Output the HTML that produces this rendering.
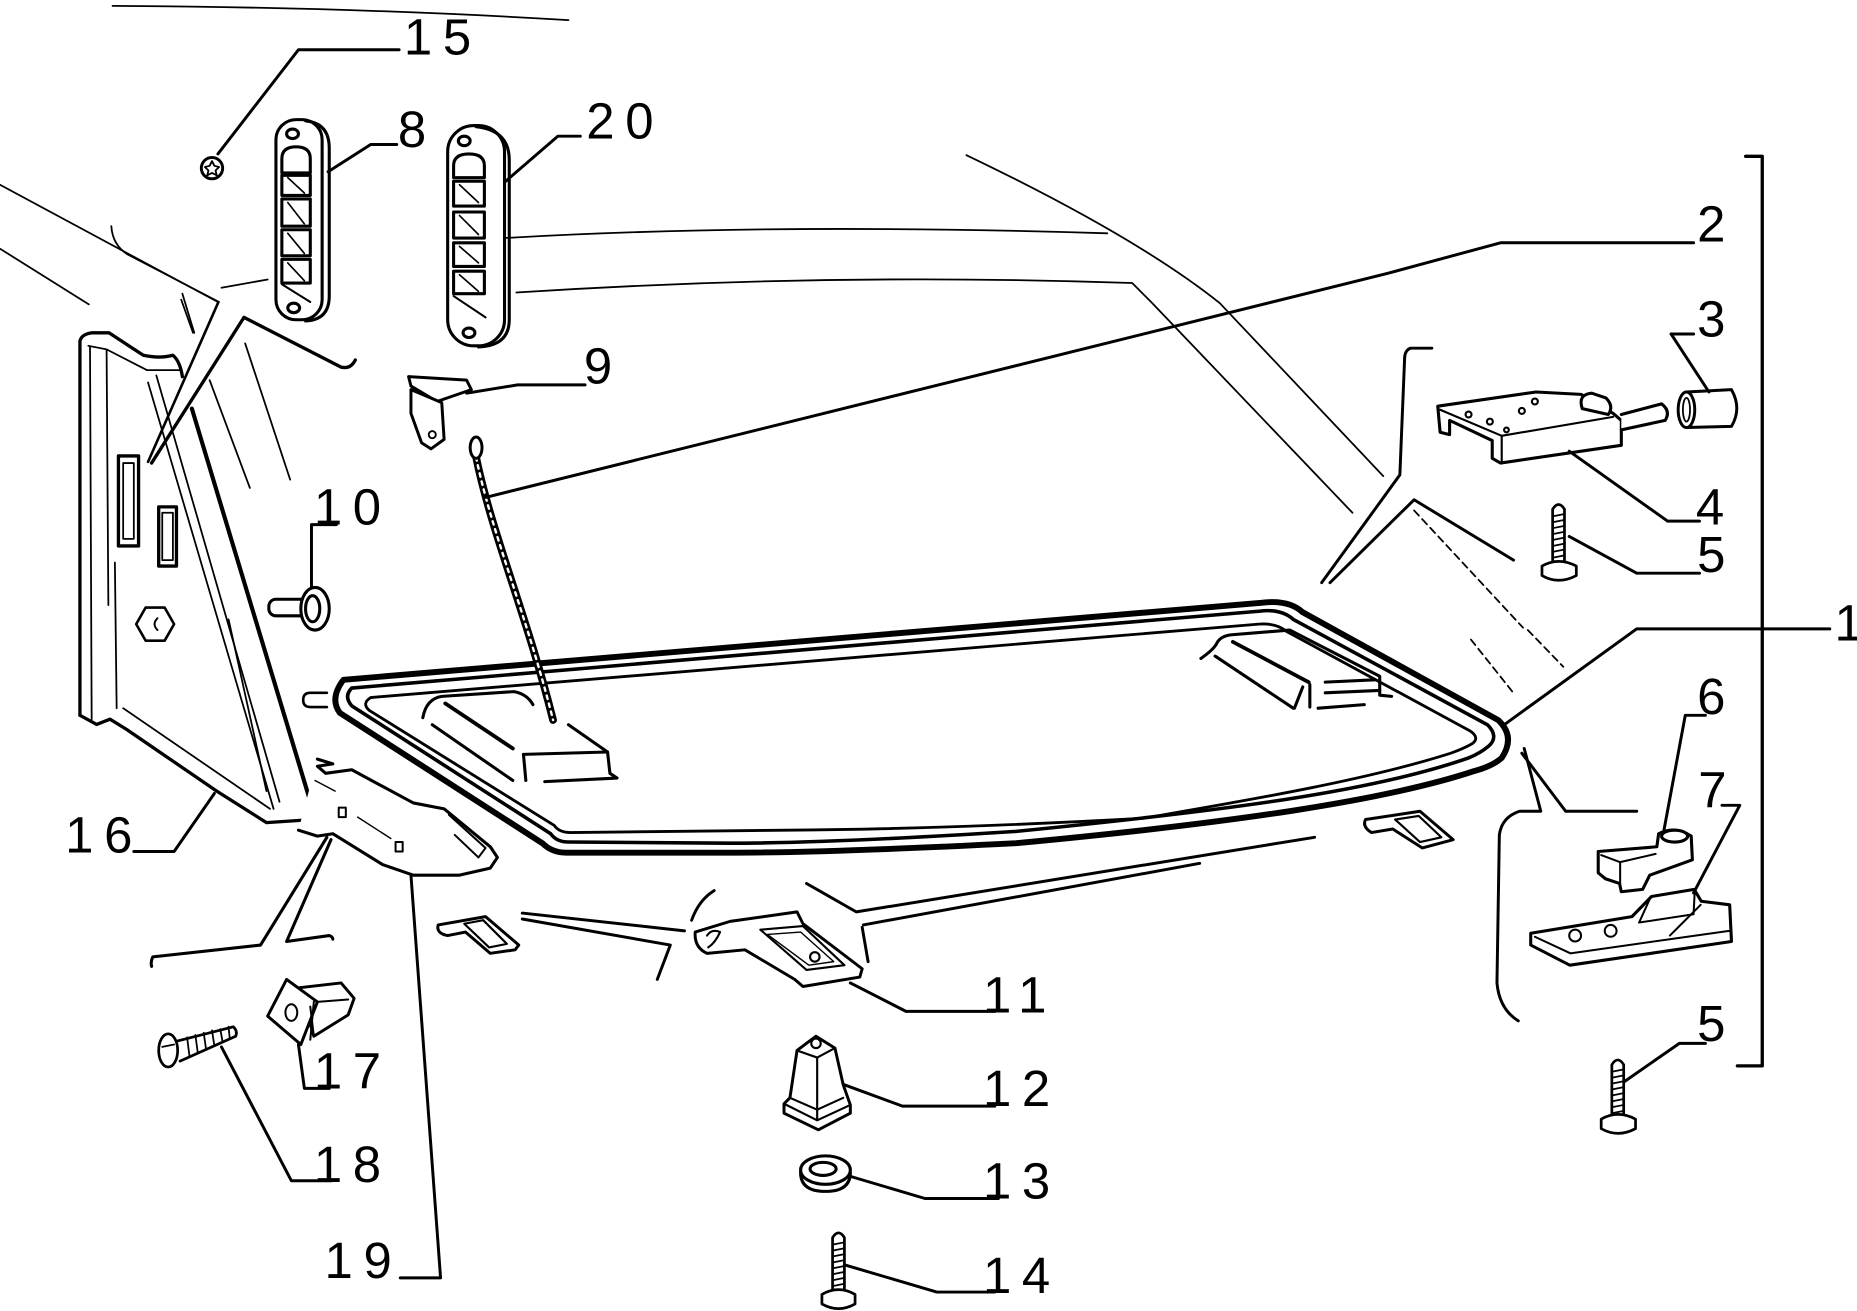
<!DOCTYPE html>
<html><head><meta charset="utf-8">
<style>
html,body{margin:0;padding:0;background:#fff;}
svg{display:block;}
text{font-family:"Liberation Sans",Arial,sans-serif;font-size:43px;letter-spacing:9px;fill:#000;}
</style></head><body>
<svg width="1857" height="1311" viewBox="0 0 1568 1107" preserveAspectRatio="none" xmlns="http://www.w3.org/2000/svg">
<rect width="1568" height="1107" fill="#fff"/>
<g fill="none" stroke="#000" stroke-linecap="round" stroke-linejoin="round">

<!-- background thin lines -->
<g stroke-width="1.5">
<path d="M95,5 Q300,6 480,17"/>
<path d="M0,156 L184,255"/>
<path d="M0,210 L75,257"/>
<path d="M94,191 Q95,207 108,215 L185,255"/>
<path d="M187,243 L226,236"/>
<path d="M154,248 L164,281"/>
<path d="M207,290 L245,405"/>
<path d="M125,323 L231,683"/>
<path d="M132,317 L236,677"/>
<path d="M177,321 L211,412"/>
<path d="M193,523 L225,668"/>
<path d="M153,253 L163,281"/>
<path d="M426,201 Q650,188 935,197"/>
<path d="M436,247 Q700,230 956,239 L972,255 L1142,433"/>
<path d="M816,131 Q960,200 1030,256 L1168,402"/>
<path d="M1194,431 L1286,530" stroke-dasharray="6 4"/>
<path d="M1242,540 L1277,584" stroke-dasharray="6 4"/>
<path d="M1290,532 L1320,563" stroke-dasharray="6 4"/>
</g>

<!-- panel 16 -->
<g stroke-width="2.8">
<path d="M67.5,604 L67.5,288 Q69,282 78,281 L92,281 L121,300 Q135,303 146,300 Q152,305 154,318"/>
<path d="M67.5,604 L81.6,611.7 L92.9,607.3 L107,616 L183,668 L225,694.6 L264.5,692"/>
<path d="M162,345 L266,690" stroke-width="3.5"/>
<path d="M128,391 L206,268 L288,310 Q296,312 300,304"/>
<path d="M125,390 L184,256" stroke-width="2.2"/>
<rect x="100" y="385" width="17" height="76"/>
<rect x="104" y="391" width="9" height="64" stroke-width="1.5"/>
<rect x="134" y="428" width="15" height="50"/>
<rect x="137" y="433" width="9" height="40" stroke-width="1.5"/>
<polygon points="147,527 139,541 123,541 115,527 123,513 139,513" stroke-width="2.2"/>
<path d="M133,522 Q128,527 133,532" stroke-width="1.6"/>
<path d="M276,585 L262,585 Q256,585 256,591 Q256,597 262,597 L276,597" stroke-width="2.2"/>
</g>
<g stroke-width="1.5">
<path d="M74.6,292 L90,295 L124,312.5 L152,312.5"/>
<path d="M76,293 L77.4,608"/>
<path d="M90,295 L91.5,511"/>
<path d="M97,475 L98.5,598"/>
<path d="M104,598 L228,683"/>
</g>

<!-- part 10 -->
<g stroke-width="2.6">
<rect x="227" y="506" width="38" height="14" rx="6" fill="#fff"/>
<ellipse cx="266" cy="514" rx="12" ry="18" fill="#fff"/>
<ellipse cx="264" cy="514" rx="6" ry="11"/>
</g>

<!-- part 15 -->
<circle cx="179" cy="142" r="9" stroke-width="2.5"/>
<polygon points="179,136 181,140 185,141 182,144 183,148 179,146 175,148 176,144 173,141 177,140" stroke-width="1.5"/>

<!-- part 8 -->
<g stroke-width="2.6">
<rect x="233" y="101" width="39" height="169" rx="17" fill="#fff"/>
<path d="M258,102 Q278,104 278,125 L278,250 Q278,270 258,271"/>
<path d="M238,146 L238,134 Q238,124 250,124 Q262,124 262,134 L262,146 Z"/>
<rect x="238" y="148" width="24" height="17"/>
<rect x="238" y="168" width="24" height="23"/>
<rect x="238" y="194" width="24" height="22"/>
<rect x="238" y="219" width="24" height="20"/>
<path d="M238,240 L262,255" stroke-width="1.7"/>
<ellipse cx="247" cy="113" rx="5" ry="4"/>
<ellipse cx="248" cy="260" rx="5" ry="4"/>
</g>
<g stroke-width="1.4">
<path d="M243,150 L257,163"/><path d="M243,171 L257,189"/><path d="M243,197 L257,214"/><path d="M243,222 L257,237"/>
</g>

<!-- part 20 -->
<g stroke-width="2.6">
<rect x="378" y="106" width="48" height="186" rx="22" fill="#fff"/>
<path d="M402,107 Q430,110 430,135 L430,270 Q430,292 404,293"/>
<path d="M383,150 L383,140 Q383,130 396,130 Q409,130 409,140 L409,150 Z"/>
<rect x="383" y="153" width="26" height="21"/>
<rect x="383" y="179" width="26" height="22"/>
<rect x="383" y="205" width="26" height="20"/>
<rect x="383" y="229" width="26" height="19"/>
<path d="M383,250 L410,268" stroke-width="1.7"/>
<ellipse cx="392" cy="119" rx="5" ry="4"/>
<ellipse cx="396" cy="281" rx="5" ry="4"/>
</g>
<g stroke-width="1.4">
<path d="M388,156 L404,171"/><path d="M388,182 L404,198"/><path d="M388,208 L404,222"/><path d="M388,232 L404,246"/>
</g>

<!-- part 9 -->
<g stroke-width="2.5" fill="#fff">
<path d="M345,318 L394,321 L398,329 L369,339 L347,326 Z"/>
<path d="M347,329 L373,340 L375,371 L364,379 L356,374 L347,349 Z"/>
</g>
<circle cx="365" cy="367" r="3" stroke-width="1.6"/>

<!-- tray -->
<path d="M290,574 L1065,509 Q1088,506 1100,517 L1265,608 Q1280,622 1268,640 Q1260,647 1245,651 C1170,676 1040,695 858,712 Q700,720 616,720 L478,720 Q466,720 458,712 L287,602 Q278,590 290,574 Z" stroke-width="5"/>
<path d="M297,581 L1064,516 Q1082,514 1092,523 L1256,612 Q1266,622 1257,630 Q1250,636 1240,640 C1160,668 1040,684 858,702 Q700,712 616,712 L480,711 Q470,711 465,704 L297,596 Q290,588 297,581 Z" stroke-width="3"/>
<path d="M313,589 L1063,527 Q1078,526 1086,533 L1241,617 Q1250,623 1243,628 Q1236,632 1225,636 C1150,660 1040,678 965,691 Q800,700 664,701 L482,703 Q472,703 468,697 L312,600 Q305,594 313,589 Z" stroke-width="2.4"/>

<!-- left bump -->
<g stroke-width="2.6">
<path d="M357,606 Q360,590 373,588 L434,584 Q445,586 450,595"/>
<path d="M480,612 L513,635 L515,653 L521,657 L460,660"/>
<path d="M442,637 L513,635"/>
<path d="M442,637 L444,659"/>
<path d="M376,594 L433,632" stroke-width="3.2"/>
<path d="M365,612 L433,659"/>
</g>
<!-- right bump -->
<g stroke-width="2.6">
<path d="M1014,556 Q1024,549 1027,544 Q1030,537 1040,536 L1089,532 L1165,571 L1165,587 L1175,588"/>
<path d="M1041,542 L1105,576" stroke-width="3.2"/>
<path d="M1026,554 L1092,598"/>
<path d="M1100,580 L1093,598"/>
<path d="M1106,578 L1106,597"/>
<path d="M1119,576 L1161,574"/>
<path d="M1113,598 L1152,595"/>
<path d="M1119,585 L1165,583"/>
</g>

<!-- cable 2 -->
<path d="M402,386 C415,450 445,520 467,608" stroke-width="6.5"/>
<path d="M402,386 C415,450 445,520 467,608" stroke="#fff" stroke-width="2" stroke-dasharray="3 4"/>
<ellipse cx="402" cy="378" rx="5" ry="9" stroke-width="2.5" fill="#fff"/>

<!-- part 3 -->
<g stroke-width="2.5">
<path d="M1424,331 L1462,329 Q1471,345 1462,360 L1424,361"/>
<ellipse cx="1424" cy="346" rx="7" ry="15" fill="#fff"/>
<ellipse cx="1424" cy="346" rx="3" ry="10" stroke-width="1.5"/>
</g>

<!-- part 4 -->
<g stroke-width="2.6" fill="#fff">
<path d="M1214,343 L1297,331 L1335,333 L1362,349 L1369,355 L1369,376 L1267,391 L1260,387 L1260,372 L1224,355 L1224,367 L1216,365 Z"/>
<path d="M1369,350 L1403,341 Q1411,347 1406,355 L1369,363"/>
<path d="M1336,345 Q1332,333 1344,332 L1356,336 Q1363,343 1358,350 Z"/>
</g>
<g stroke-width="1.8">
<path d="M1216,346 L1268,368 L1362,352"/>
<path d="M1268,368 L1268,390"/>
<circle cx="1240" cy="350" r="2.5"/><circle cx="1258" cy="356" r="2.5"/><circle cx="1285" cy="347" r="2.5"/><circle cx="1296" cy="339" r="2.5"/><circle cx="1272" cy="363" r="2"/>
</g>

<!-- screws 5, 5b, 14 -->
<g stroke-width="2.3">
<path d="M1311,476 L1311,430 Q1316,422 1321,430 L1321,476"/>
<path d="M1302,478 Q1316,470 1331,478 L1331,486 Q1316,494 1302,486 Z" fill="#fff"/>
<path d="M1361,943 L1361,899 Q1366,891 1371,899 L1371,943"/>
<path d="M1352,945 Q1366,937 1381,945 L1381,953 Q1366,961 1352,953 Z" fill="#fff"/>
<path d="M703,1091 L703,1045 Q708,1037 713,1045 L713,1091"/>
<path d="M694,1093 Q708,1085 722,1093 L722,1101 Q708,1109 694,1101 Z" fill="#fff"/>
</g>
<g stroke-width="1.5">
<path d="M1311,436 L1321,434 M1311,441 L1321,439 M1311,446 L1321,444 M1311,451 L1321,449 M1311,456 L1321,454 M1311,461 L1321,459 M1311,466 L1321,464 M1311,471 L1321,469"/>
<path d="M1361,905 L1371,903 M1361,910 L1371,908 M1361,915 L1371,913 M1361,920 L1371,918 M1361,925 L1371,923 M1361,930 L1371,928 M1361,935 L1371,933 M1361,940 L1371,938"/>
<path d="M703,1051 L713,1049 M703,1056 L713,1054 M703,1061 L713,1059 M703,1066 L713,1064 M703,1071 L713,1069 M703,1076 L713,1074 M703,1081 L713,1079 M703,1086 L713,1084"/>
</g>

<!-- part 6 -->
<g stroke-width="2.6" fill="#fff">
<path d="M1349.5,719 L1399,715 L1400.5,704 Q1414,697 1428,706 L1429,726 L1393,739 L1387,751 L1369,753 L1367.5,746 L1355.5,742 L1349.5,737 Z"/>
<ellipse cx="1414" cy="706" rx="11" ry="5"/>
</g>
<path d="M1352,722 L1368,728 L1398,721 M1368,728 L1368,746" stroke-width="1.7"/>

<!-- part 7 -->
<g stroke-width="2.6" fill="#fff">
<path d="M1292.5,788 L1378,774 L1394.5,757 L1430.5,751 L1436.5,761 L1460.5,764 L1462,795 L1325.5,815 L1292.5,798 Z"/>
</g>
<g stroke-width="1.7">
<path d="M1296,791 L1326,805 L1460,786"/>
<path d="M1394,757 L1384,779 L1430,772 L1431,752"/>
<path d="M1436,764 L1420,780 L1410,790"/>
<circle cx="1330" cy="790" r="5"/><circle cx="1360" cy="786" r="5"/>
</g>

<!-- clips 11 -->
<g stroke-width="2.5" fill="#fff">
<path d="M1153,692 L1199,685 L1227,709 L1201,716 L1176,700 L1158,703 Q1150,698 1153,692 Z"/>
<path d="M370,781 L410,774 L438,798 L435,802 L414,805 L393,787 L378,790 Q368,788 370,781 Z"/>
<path d="M587,787 L616.5,778 L673,770 L678,780 L728,818 L726,825 L678,833 L671,827 L629,802 L597,805 Q586,800 587,787 Z"/>
</g>
<g stroke-width="1.8">
<path d="M1178,692 L1198,689 L1217,707 L1199,711 Z"/>
<path d="M392,780 L408,777 L428,797 L413,800 Z"/>
<path d="M642,785 L678,782 L713,815 L681,819 Z"/>
<path d="M648,789 L676,787 L704,812 L683,815 Z" stroke-width="1.2"/>
<circle cx="688" cy="808" r="4"/>
<path d="M597,790 Q601,784 608,787 Q604,796 598,800"/>
</g>

<!-- lines around big clip -->
<g stroke-width="2.5">
<path d="M441,771 L578,786"/>
<path d="M441,776 L566,798 L555,827"/>
<path d="M584,777 Q590,760 603,752"/>
<path d="M681,746 L723,770 L1110,707"/>
<path d="M729,781 L1013,729"/>
<path d="M728,783 L733,812"/>
</g>

<!-- part 12 -->
<g stroke-width="2.5" fill="#fff">
<path d="M673,887 L689,875 L705,885 L712,916 L718,933 L718,940 L691,954 L662,940 L662,932 L667,927 Z"/>
</g>
<g stroke-width="1.8">
<path d="M673,887 L690,893 L705,885"/>
<path d="M690,893 L690,945"/>
<path d="M667,927 L690,937 L712,927"/>
<path d="M662,932 L690,946 L718,933"/>
<circle cx="689" cy="881" r="4"/>
</g>

<!-- part 13 -->
<g stroke-width="2.6">
<path d="M676,990 Q676,1006 697,1006 Q718,1006 718,990"/>
<ellipse cx="697" cy="988" rx="21" ry="12" fill="#fff"/>
<ellipse cx="695" cy="987" rx="11" ry="5.5"/>
</g>

<!-- part 17 -->
<g stroke-width="2.5" fill="#fff">
<path d="M253,834 L288,830 L299,843 L294,857 L265,875 Z"/>
<path d="M226,858 L242,827 L268,846 L254,882 Z"/>
</g>
<g stroke-width="1.7">
<ellipse cx="246" cy="855" rx="5" ry="7"/>
<path d="M268,846 L294,844 M262,850 L265,875 M265,846 L262,878"/>
</g>

<!-- screw 18 -->
<g stroke-width="2.3">
<path d="M150,879 L197,867 Q201,871 199,875 L152,896" fill="#fff"/>
<ellipse cx="142" cy="887" rx="8" ry="14" fill="#fff"/>
<path d="M137,884 L147,882" stroke-width="1.5"/>
</g>
<path d="M158,876 L160,892 M165,874 L167,889 M172,872 L174,886 M179,870 L181,883 M186,869 L188,880 M193,867 L194,877" stroke-width="1.5"/>

<!-- part 19 -->
<g stroke-width="2.6" fill="#fff">
<path d="M268,641 L281,645 L268,647 L275,653 L297,650 L349,678 L375,683 L414,715 L420,724 L414,733 L388,739 L349,739 L323,730 L281,704 L268,706 L252,701"/>
</g>
<g stroke-width="1.7">
<path d="M379,688 L410,716 L404,724 L384,705"/>
<rect x="286" y="682" width="6" height="8"/>
<rect x="334" y="711" width="6" height="8"/>
<path d="M266,659 L283,668 M302,690 L330,708" stroke-width="1.2"/>
</g>

<!-- bottom-left bracket lines -->
<g stroke-width="2.6">
<path d="M276,707 L220,798 L129,808 Q127,812 128,816"/>
<path d="M279.5,709 L242,795 L278,790 Q281,791 281,793"/>
</g>

<!-- group brackets right -->
<g stroke-width="2.5">
<path d="M1209,294 L1191,294 Q1186,296 1186,303 L1182,401 L1116,492"/>
<path d="M1123,492 L1194,422 L1278,473"/>
<path d="M1287,632 L1301,685 L1283,685 Q1268,690 1266,705 L1264,830 Q1266,852 1282,862"/>
<path d="M1285,636 L1322,685 L1382,685"/>
</g>

<!-- leaders -->
<g stroke-width="2.5">
<path d="M184,130 L252,42 L337,42"/>
<path d="M277,145 L313,122 L335,122"/>
<path d="M427,153 L471,115 L490,115"/>
<path d="M394,332 L437,325 L494,325"/>
<path d="M263,495 L263,443 L284,443"/>
<path d="M410,420 L1171,231 L1267,205 L1430,205"/>
<path d="M1411,282 L1430,282 M1411,282 L1443,331"/>
<path d="M1325,381 L1408,440 L1435,440"/>
<path d="M1325,453 L1382,484 L1435,484"/>
<path d="M1270,612 L1382,531 L1545,531"/>
<path d="M1405,701 L1423,604 L1440,604"/>
<path d="M1430,754 L1469,680 L1454,680"/>
<path d="M1372,913 L1418,881 L1440,881"/>
<path d="M1474,132 L1488,132 L1488,900 L1467,900" stroke-width="2.8"/>
<path d="M181,670 L147,719 L113,719"/>
<path d="M347,739 L372,1079 L338,1079"/>
<path d="M252,882 L257,919 L278,919"/>
<path d="M187,884 L246,997 L280,997"/>
<path d="M718,830 L765,854 L840,854"/>
<path d="M713,916 L762,934 L840,934"/>
<path d="M717,993 L781,1012 L843,1012"/>
<path d="M713,1068 L791,1091 L840,1091"/>
</g>
</g>

<!-- labels -->
<text x="341" y="46">15</text>
<text x="336" y="124">8</text>
<text x="495" y="117">20</text>
<text x="1433" y="204">2</text>
<text x="1433" y="284">3</text>
<text x="493" y="324">9</text>
<text x="265" y="443">10</text>
<text x="1432" y="443">4</text>
<text x="1433" y="483">5</text>
<text x="1549" y="541">1</text>
<text x="1433" y="603">6</text>
<text x="1434" y="682">7</text>
<text x="55" y="720">16</text>
<text x="830" y="855">11</text>
<text x="1433" y="879">5</text>
<text x="265" y="919">17</text>
<text x="830" y="934">12</text>
<text x="265" y="998">18</text>
<text x="830" y="1012">13</text>
<text x="274" y="1079">19</text>
<text x="830" y="1092">14</text>
</svg>
</body></html>
